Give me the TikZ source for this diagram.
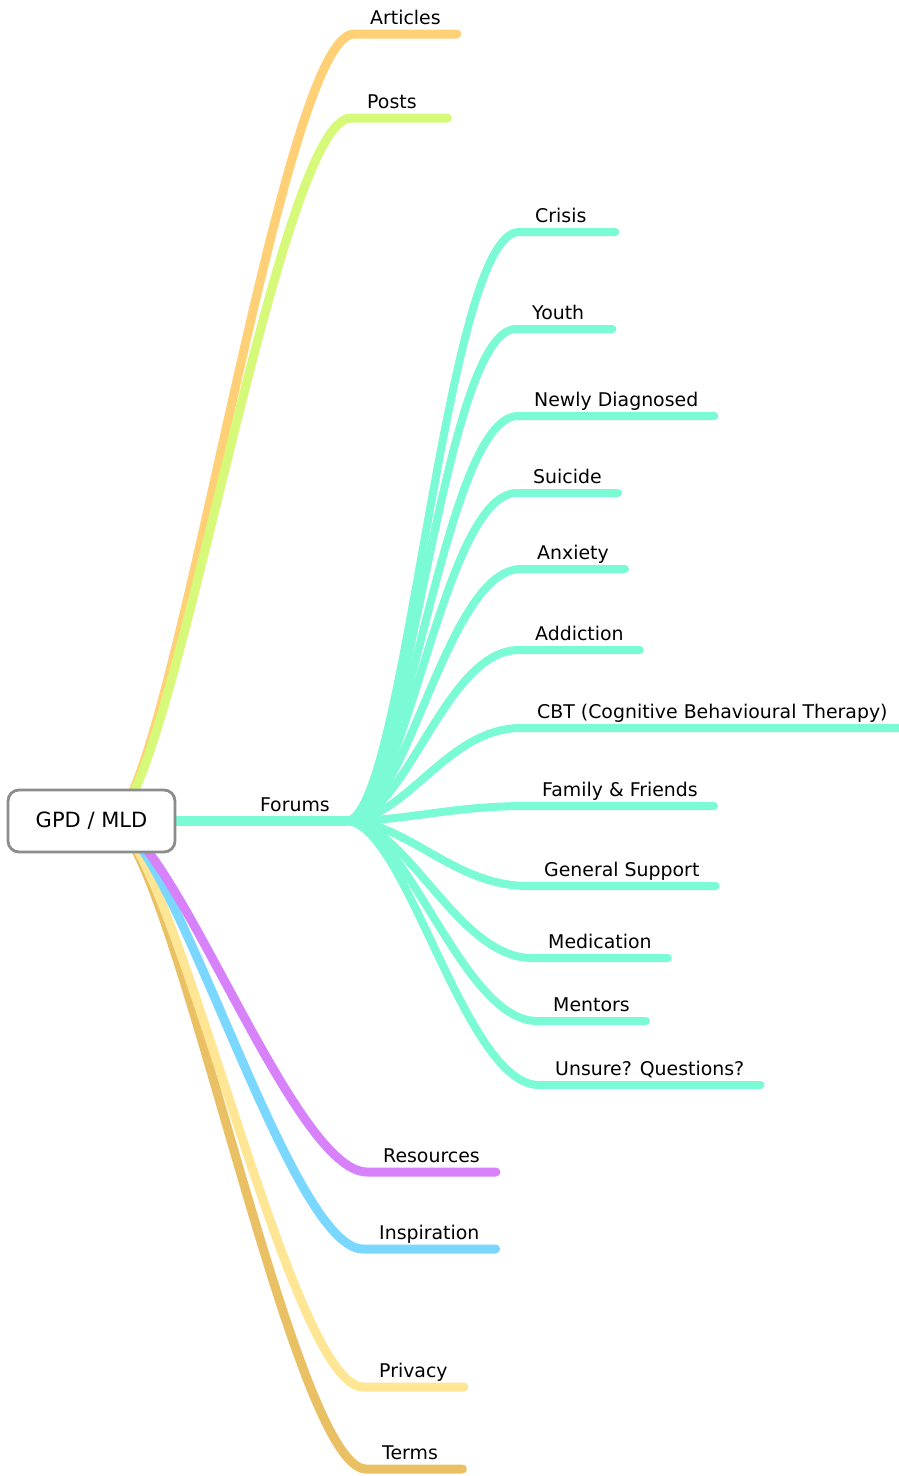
\documentclass[tikz,border=0pt]{standalone}
\usepackage{fontspec}
\setmainfont{DejaVu Sans}
\usepackage{xcolor}
\usepackage{tikz}
\usetikzlibrary{backgrounds}

\definecolor{articlecol}{HTML}{FFD075}
\definecolor{postcol}{HTML}{D6F97A}
\definecolor{forumcol}{HTML}{7BFAD6}
\definecolor{resourcecol}{HTML}{D782FA}
\definecolor{inspircol}{HTML}{7AD7FF}
\definecolor{privacycol}{HTML}{FFE694}
\definecolor{termscol}{HTML}{E9C063}

% short labels keep their text at the left of a minimum width
\newcommand{\padlabel}[1]{\setbox0=\hbox{#1}\ifdim\wd0<64pt\hbox to 64pt{\box0\hfil}\else\box0\fi}

\begin{document}
\begin{tikzpicture}[x=1pt, y=-1pt,
    rootbox/.style={draw=black!45, line width=2.8pt, fill=white, rounded corners=11pt,
        minimum width=167pt, minimum height=62pt, font=\fontsize{21}{25}\selectfont, text=black},
    leaf/.style={inner xsep=16pt, inner ysep=4.5pt, text depth=4.5pt, text height=13.5pt,
        font=\fontsize{18.9}{22}\selectfont, text=black},
    branch/.style={line width=9pt, line cap=round},
    twig/.style={line width=8pt, line cap=round, draw=forumcol}]

    \useasboundingbox (0,0) rectangle (898,1476);

    % Central topic
    \node[rootbox] (root) at (91.5,821) {GPD / MLD};
    \coordinate (core) at (110,821);

    % Main topics
    \node[leaf, anchor=south west] (articles) at (354,34) {\padlabel{Articles}};
    \node[leaf, anchor=south west] (posts) at (351,118) {\padlabel{Posts}};
    \node[leaf, anchor=south east] (forums) at (346,821) {Forums};
    \node[leaf, anchor=south west] (resources) at (367,1172) {\padlabel{Resources}};
    \node[leaf, anchor=south west] (inspiration) at (363,1249) {\padlabel{Inspiration}};
    \node[leaf, anchor=south west] (privacy) at (363,1387) {\padlabel{Privacy}};
    \node[leaf, anchor=south west] (terms) at (366,1469) {\padlabel{Terms}};

    \begin{pgfonlayer}{background}
        \foreach \name/\col in {terms/termscol, privacy/privacycol, inspiration/inspircol,
                                resources/resourcecol, articles/articlecol, posts/postcol} {
            \draw[branch, draw=\col] (core) .. controls +(60,0) and +(-75,0) .. (\name.south west)
                -- (\name.south east);
        }
        \draw[branch, line width=10pt, draw=forumcol] (core) -- (forums.south east);
    \end{pgfonlayer}

    % Forum boards
    \foreach \name/\x/\y/\txt in {crisis/519/232/Crisis, youth/516/329/Youth,
                                  newly/518/416/Newly Diagnosed, suicide/517/493/Suicide,
                                  anxiety/521/569/Anxiety, addiction/519/650/Addiction,
                                  cbt/521/728/CBT (Cognitive Behavioural Therapy),
                                  family/526/806/Family \& Friends, general/528/886/General Support,
                                  medication/532/958/Medication, mentors/537/1021/Mentors,
                                  unsure/539/1085/Unsure? Questions?} {
        \node[leaf, anchor=south west] (\name) at (\x,\y) {\padlabel{\txt}};
        \draw[twig] (forums.south east) .. controls +(60,0) and +(-75,0) .. (\name.south west)
            -- (\name.south east);
    }
\end{tikzpicture}
\end{document}
